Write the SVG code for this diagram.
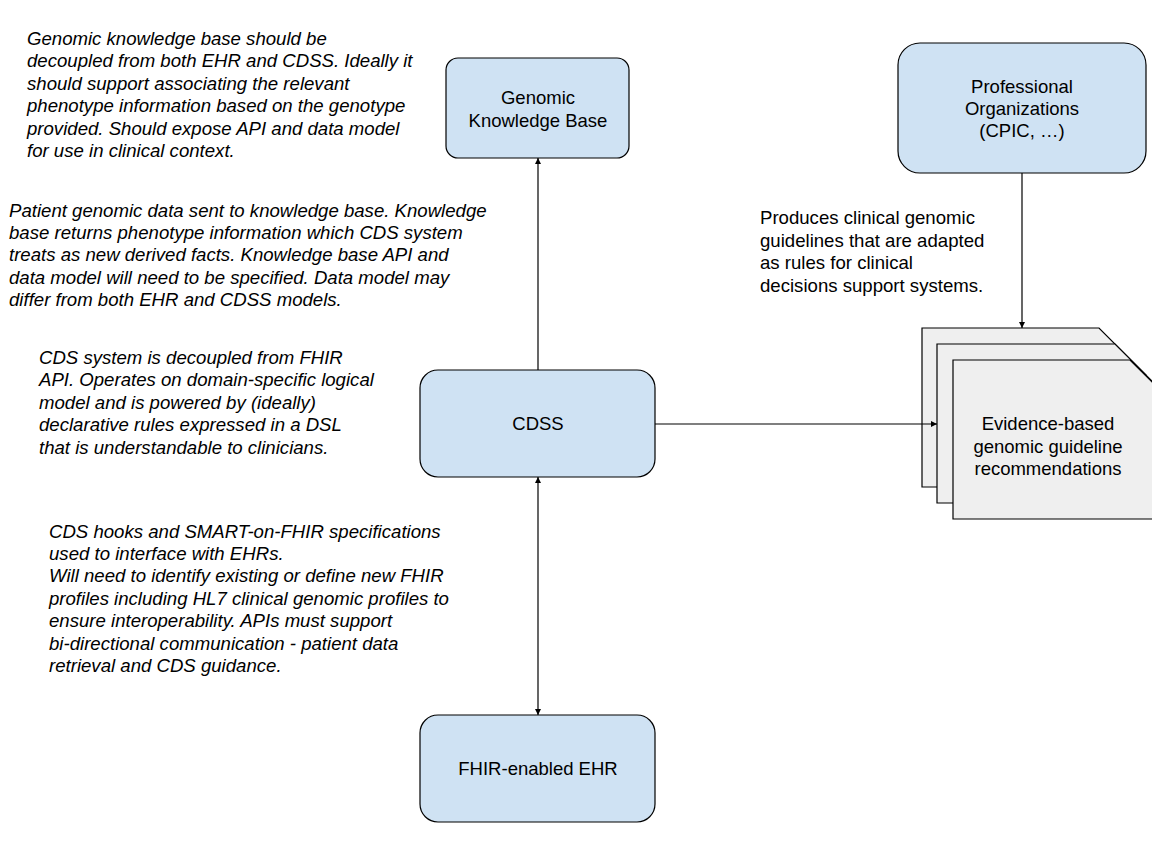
<svg xmlns="http://www.w3.org/2000/svg" width="1152" height="864" viewBox="0 0 1152 864">
<style>
.box{fill:#cfe2f3;stroke:#000;stroke-width:1.2}
.doc{fill:#efefef;stroke:#000;stroke-width:1.2}
.lbl{font-family:"Liberation Sans",Arial,sans-serif;font-size:18.5px;fill:#000;text-anchor:middle}
.note{font-family:"Liberation Sans",Arial,sans-serif;font-size:18.6px;fill:#000;font-style:italic}
.plain{font-family:"Liberation Sans",Arial,sans-serif;font-size:18.6px;fill:#000}
.con{stroke:#000;stroke-width:1.2;fill:none}
</style>
<defs>
<marker id="ah" viewBox="0 0 10 10" refX="10" refY="5" markerWidth="6" markerHeight="6" orient="auto-start-reverse" markerUnits="userSpaceOnUse">
<path d="M0,0 L10,5 L0,10 z" fill="#000"/>
</marker>
</defs>
<rect width="1152" height="864" fill="#fff"/>

<g id="genomic-kb">
<rect class="box" x="446" y="58" width="183" height="100" rx="12"/>
<text class="lbl" x="538" y="104">Genomic</text>
<text class="lbl" x="538" y="127">Knowledge Base</text>
</g>

<g id="cdss">
<rect class="box" x="420" y="370" width="235" height="107" rx="18"/>
<text class="lbl" x="538" y="430">CDSS</text>
</g>

<g id="ehr">
<rect class="box" x="420" y="715" width="235" height="107" rx="18"/>
<text class="lbl" x="538" y="775">FHIR-enabled EHR</text>
</g>

<g id="prof-org">
<rect class="box" x="898" y="43" width="248" height="130" rx="22"/>
<text class="lbl" x="1022" y="93">Professional</text>
<text class="lbl" x="1022" y="115">Organizations</text>
<text class="lbl" x="1022" y="137">(CPIC, …)</text>
</g>

<g id="evidence">
<path class="doc" d="M922,328 H1099 L1146,375 V487 H922 Z"/>
<path class="doc" d="M937,344 H1115 L1162,391 V503 H937 Z"/>
<path class="doc" d="M953,360 H1130 L1177,407 V519 H953 Z"/>
<text class="lbl" x="1048" y="430">Evidence-based</text>
<text class="lbl" x="1048" y="453">genomic guideline</text>
<text class="lbl" x="1048" y="475">recommendations</text>
</g>

<g id="connectors">
<line class="con" x1="538" y1="370" x2="538" y2="158" marker-end="url(#ah)"/>
<line class="con" x1="538" y1="715" x2="538" y2="477" marker-start="url(#ah)" marker-end="url(#ah)"/>
<line class="con" x1="655" y1="424" x2="937" y2="424" marker-end="url(#ah)"/>
<line class="con" x1="1022" y1="173" x2="1022" y2="328" marker-end="url(#ah)"/>
</g>

<g id="note-kb">
<text class="note" x="27" y="45">Genomic knowledge base should be</text>
<text class="note" x="27" y="67">decoupled from both EHR and CDSS. Ideally it</text>
<text class="note" x="27" y="90">should support associating the relevant</text>
<text class="note" x="27" y="112">phenotype information based on the genotype</text>
<text class="note" x="27" y="135">provided. Should expose API and data model</text>
<text class="note" x="27" y="157">for use in clinical context.</text>
</g>

<g id="note-patient">
<text class="note" x="9" y="217">Patient genomic data sent to knowledge base. Knowledge</text>
<text class="note" x="9" y="239">base returns phenotype information which CDS system</text>
<text class="note" x="9" y="261">treats as new derived facts. Knowledge base API and</text>
<text class="note" x="9" y="284">data model will need to be specified. Data model may</text>
<text class="note" x="9" y="306">differ from both EHR and CDSS models.</text>
</g>

<g id="note-cds">
<text class="note" x="39" y="364">CDS system is decoupled from FHIR</text>
<text class="note" x="39" y="386">API. Operates on domain-specific logical</text>
<text class="note" x="39" y="409">model and is powered by (ideally)</text>
<text class="note" x="39" y="431">declarative rules expressed in a DSL</text>
<text class="note" x="39" y="454">that is understandable to clinicians.</text>
</g>

<g id="note-hooks">
<text class="note" x="49" y="538">CDS hooks and SMART-on-FHIR specifications</text>
<text class="note" x="49" y="560">used to interface with EHRs.</text>
<text class="note" x="49" y="582">Will need to identify existing or define new FHIR</text>
<text class="note" x="49" y="605">profiles including HL7 clinical genomic profiles to</text>
<text class="note" x="49" y="627">ensure interoperability. APIs must support</text>
<text class="note" x="49" y="650">bi-directional communication - patient data</text>
<text class="note" x="49" y="672">retrieval and CDS guidance.</text>
</g>

<g id="note-produces">
<text class="plain" x="760" y="224">Produces clinical genomic</text>
<text class="plain" x="760" y="247">guidelines that are adapted</text>
<text class="plain" x="760" y="269">as rules for clinical</text>
<text class="plain" x="760" y="292">decisions support systems.</text>
</g>
</svg>
